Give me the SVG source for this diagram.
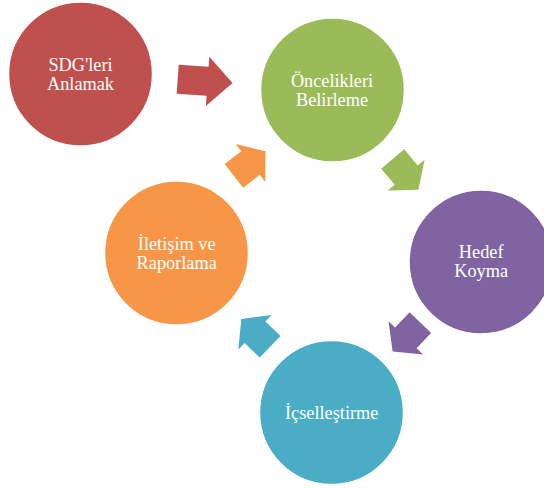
<svg xmlns="http://www.w3.org/2000/svg" xmlns:xlink="http://www.w3.org/1999/xlink" width="544" height="489" viewBox="0 0 544 489">
  <style>
    .node { stroke: #ffffff; stroke-width: 1.5; }
    .label { font-family: "Liberation Serif", "Times New Roman", serif; font-size: 18.3px; fill: #ffffff; text-anchor: middle; }
    .red { fill: #C0504D; }
    .green { fill: #9BBB59; }
    .purple { fill: #8064A2; }
    .teal { fill: #4BACC6; }
    .orange { fill: #F79646; }
  </style>
  <defs>
    <!-- block arrow, base of head at origin, pointing along +x -->
    <polygon id="cycleArrow" points="-21,-15 0,-15 0,-24 19,0 0,24 0,15 -21,15"/>
    <polygon id="leadArrow" points="-30,-14.5 0,-14.5 0,-24.7 25,0 0,24.7 0,14.5 -30,14.5"/>
  </defs>
  <rect width="544" height="489" fill="#ffffff"/>

  <g id="connectors">
    <use xlink:href="#leadArrow" href="#leadArrow" class="red" transform="translate(207.6,81.3) rotate(4)"/>
    <use xlink:href="#cycleArrow" href="#cycleArrow" class="green" transform="translate(406.2,175.1) rotate(50)"/>
    <use xlink:href="#cycleArrow" href="#cycleArrow" class="purple" transform="translate(405.8,337.8) rotate(134)"/>
    <use xlink:href="#cycleArrow" href="#cycleArrow" class="teal" transform="translate(255,332.2) rotate(224)"/>
    <use xlink:href="#cycleArrow" href="#cycleArrow" class="orange" transform="translate(250.5,163) rotate(-38)"/>
  </g>

  <g id="node-anlamak">
    <circle class="node red" cx="80.5" cy="74" r="72"/>
    <text class="label" x="80.5" y="70.7">SDG'leri</text>
    <text class="label" x="80.5" y="90">Anlamak</text>
  </g>

  <g id="node-oncelikler">
    <circle class="node green" cx="332.5" cy="90" r="72"/>
    <text class="label" x="332" y="87.3">Öncelikleri</text>
    <text class="label" x="332" y="106">Belirleme</text>
  </g>

  <g id="node-hedef">
    <circle class="node purple" cx="481" cy="262" r="72"/>
    <text class="label" x="481.2" y="257.7">Hedef</text>
    <text class="label" x="481.2" y="277.3">Koyma</text>
  </g>

  <g id="node-icsellestirme">
    <circle class="node teal" cx="331.5" cy="412.5" r="72"/>
    <text class="label" x="331.7" y="419.3">İçselleştirme</text>
  </g>

  <g id="node-iletisim">
    <circle class="node orange" cx="176.5" cy="253" r="72"/>
    <text class="label" x="176.7" y="250">İletişim ve</text>
    <text class="label" x="176.7" y="269">Raporlama</text>
  </g>
</svg>
